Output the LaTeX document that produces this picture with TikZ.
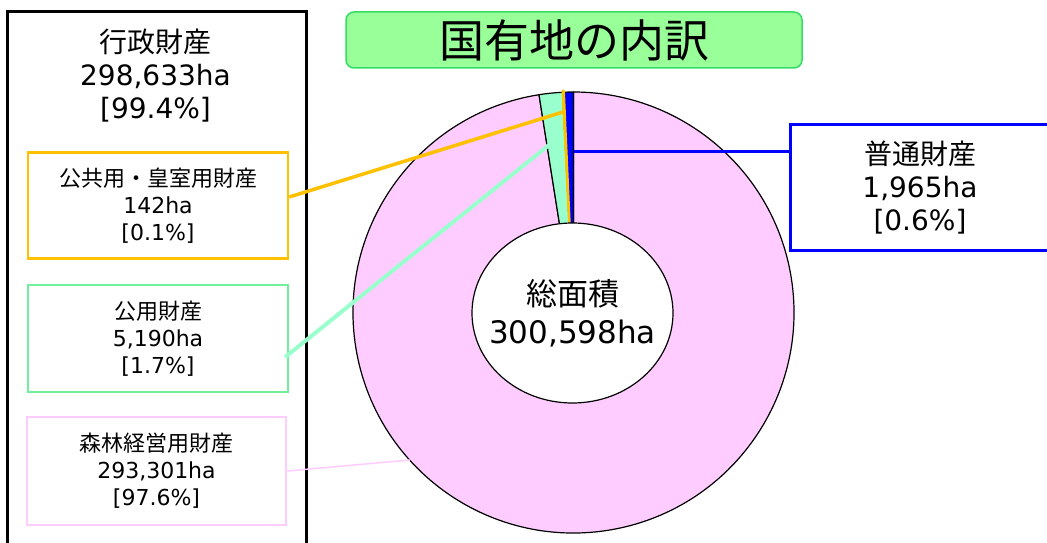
\documentclass[tikz,border=0pt]{standalone}
\usepackage{fontspec}
\setmainfont{DejaVu Sans}
\newfontfamily\jp{Noto Sans CJK JP}
\definecolor{titlefill}{HTML}{99FF99}
\definecolor{titleline}{HTML}{33DD66}
\definecolor{kokyo}{HTML}{FFC000}
\definecolor{koyo}{HTML}{70F09A}
\definecolor{koyofill}{HTML}{99FFCC}
\definecolor{shinrin}{HTML}{FFCCFF}
\definecolor{futsu}{HTML}{0000FF}
\begin{document}
\begin{tikzpicture}[x = 1pt, y = 1pt,
        box/.style = {draw, line width = 2.5, fill = white, align = center,
            minimum width = 260, minimum height = 106,
            font = \fontsize{22}{27}\selectfont},
        big/.style = {align = center, font = \fontsize{28}{33}\selectfont},
        slice/.style = {draw = black, line width = 1.2, line join = round},
    ]
    \useasboundingbox (0, 0) rectangle (1047, 542);
    \coordinate (o) at (573.5, 229.5);
    % pie, starting at the top and running to the left
    \filldraw[slice, fill = shinrin]
        (o) -- ++(99:220.5) arc[start angle = 99, end angle = 450, radius = 220.5] -- cycle;
    \filldraw[slice, fill = koyofill]
        (o) -- ++(92.8:220.5) arc[start angle = 92.8, end angle = 99, radius = 220.5] -- cycle;
    \filldraw[slice, fill = futsu]
        (o) -- ++(90:220.5) arc[start angle = 90, end angle = 92.5, radius = 220.5] -- cycle;
    \filldraw[draw = kokyo, fill = kokyo, line width = 2.2, line cap = round, line join = round]
        (o) -- ++(92.5:222) arc[start angle = 92.5, end angle = 92.8, radius = 222] -- cycle;
    \filldraw[fill = white, line width = 1.2]
        (572.5, 229) ellipse[x radius = 100.5, y radius = 90];
    \node[align = center, font = \fontsize{31}{38}\selectfont]
        (total) at (572.5, 229) {{\jp 総面積}\\300,598ha};

    \path
        (563, 430) coordinate (pkokyo)
        (549, 397) coordinate (pkoyo)
        (574, 390) coordinate (pfutsu)
        (410, 82) coordinate (pshinrin)
    ;

    \node[rounded corners = 8, draw = titleline, fill = titlefill, line width = 1.5,
        minimum width = 456, minimum height = 56, font = \fontsize{45}{50}\selectfont]
        (title) at (574, 502) {\jp 国有地の内訳};

    \draw[line width = 3] (7, 530) rectangle (306, -10);
    \node[big] (gyosei) at (155.5, 466) {{\jp 行政財産}\\298,633ha\\{[99.4\%]}};

    \node[box, draw = kokyo] (a) at (158, 336.5) {{\jp 公共用・皇室用財産}\\142ha\\{[0.1\%]}};
    \node[box, draw = koyo, minimum height = 107] (b) at (158, 203.5) {{\jp 公用財産}\\5,190ha\\{[1.7\%]}};
    \node[box, draw = shinrin, minimum width = 259, minimum height = 108] (c) at (156.5, 71) {{\jp 森林経営用財産}\\293,301ha\\{[97.6\%]}};
    \node[box, draw = futsu, line width = 3, minimum height = 125, big] (d) at (920, 354.5) {{\jp 普通財産}\\1,965ha\\{[0.6\%]}};

    \draw[kokyo, line width = 3.5] ([yshift = 8.5]a.east) -- (pkokyo);
    \draw[koyofill, line width = 4] ([yshift = -18.5, xshift = -4]b.east) -- (pkoyo);
    \draw[futsu, line width = 3] (pfutsu) -- (pfutsu -| d.west);
    \draw[shinrin, line width = 1.5] (c.east) -- (pshinrin);
\end{tikzpicture}
\end{document}
